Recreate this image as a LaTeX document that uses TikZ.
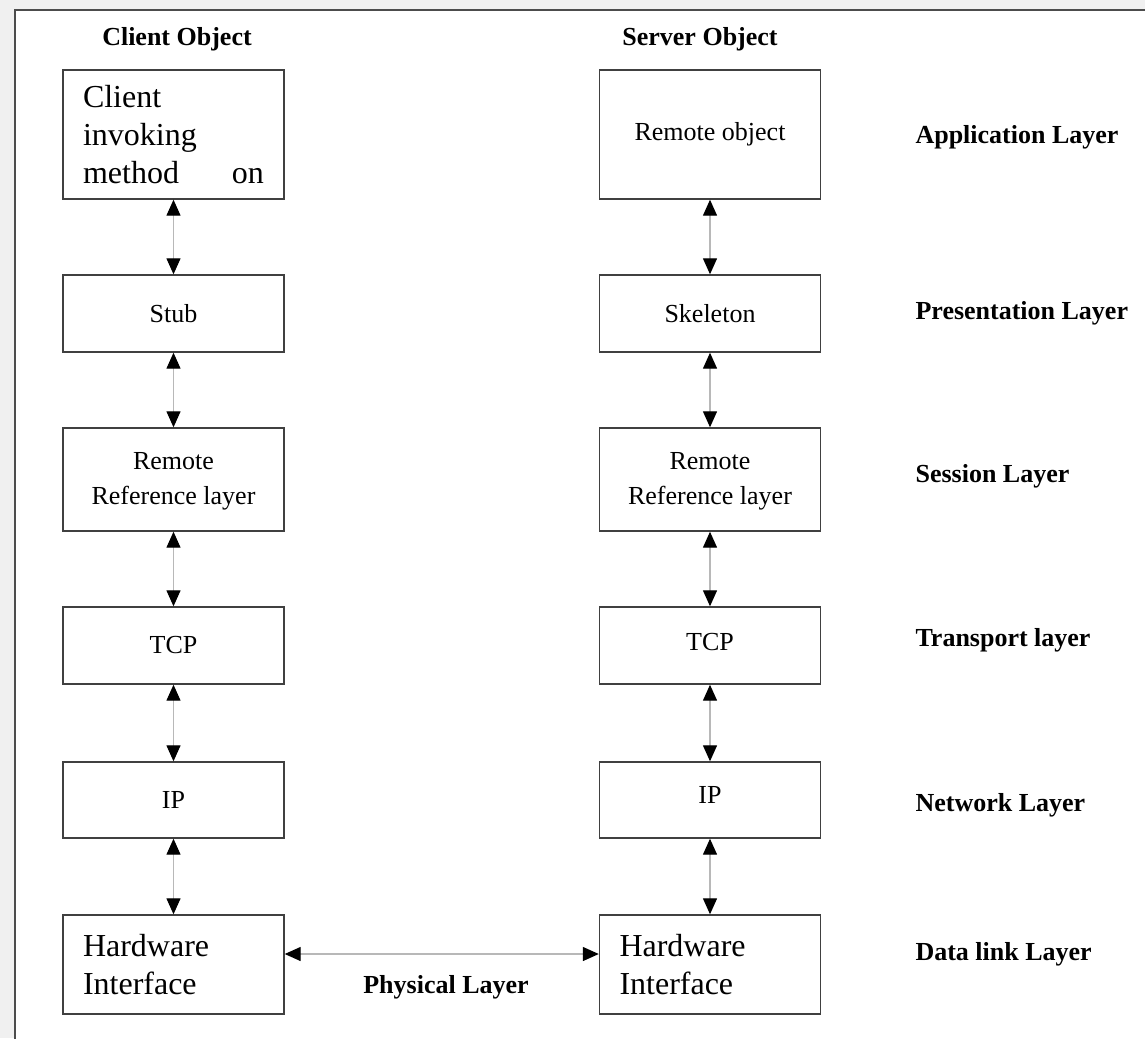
\documentclass[tikz,border=0pt]{standalone}
\usepackage{fontspec}
\setmainfont{Liberation Serif}
\usetikzlibrary{arrows.meta}

\tikzset{
  layerbox/.style={draw=black!75, line width=1.4pt, fill=white, minimum width=221pt,
    inner sep=0pt, align=center, font=\fontsize{26}{35}\selectfont},
  bigtext/.style={text width=181pt, align=left, font=\fontsize{32}{38}\selectfont},
  layername/.style={anchor=west, font=\bfseries\fontsize{26}{31}\selectfont},
  headtext/.style={font=\bfseries\fontsize{26}{31}\selectfont},
  link/.style={draw=black!28, line width=1.3pt,
    {Triangle[length=16pt,width=14pt,black]}-{Triangle[length=16pt,width=14pt,black]}}
}

\begin{document}
\begin{tikzpicture}[x=1pt, y=-1pt]

  \newcommand\XC{173.5}
  \newcommand\XS{710}
  \newcommand\XLAB{912}
  \newcommand\TwoRows[2]{\raisebox{7pt}{\begin{tabular}{@{}c@{}}#1\\#2\end{tabular}}}

  \useasboundingbox (0,0) rectangle (1145,1038);
  \fill[black!6] (0,0) rectangle (1145,1038);
  \draw[black!70, line width=1.5pt, fill=white] (15,1060) -- (15,10) -- (1160,10) -- (1160,1060);

  \node[headtext] (chead) at (177,39) {Client Object};
  \node[headtext] (shead) at (700,39) {Server Object};

  % client side
  \node[layerbox, bigtext, minimum height=129pt] (cinv) at (\XC,134.5) {Client\\invoking\\method\hfill on};
  \node[layerbox, minimum height=77pt] (stub) at (\XC,313.5) {Stub};
  \node[layerbox, minimum height=103pt] (crrl) at (\XC,479.5) {\TwoRows{Remote}{Reference layer}};
  \node[layerbox, minimum height=77pt] (ctcp) at (\XC,645.5) {TCP};
  \node[layerbox, minimum height=76pt] (cip) at (\XC,800) {\raisebox{-5pt}{IP}};
  \node[layerbox, bigtext, minimum height=99pt] (chw) at (\XC,964.5) {Hardware\\Interface};

  % server side
  \node[layerbox, minimum height=129pt] (robj) at (\XS,134.5) {\raisebox{3pt}{Remote object}};
  \node[layerbox, minimum height=77pt] (skel) at (\XS,313.5) {Skeleton};
  \node[layerbox, minimum height=103pt] (srrl) at (\XS,479.5) {\TwoRows{Remote}{Reference layer}};
  \node[layerbox, minimum height=77pt] (stcp) at (\XS,645.5) {\raisebox{8pt}{TCP}};
  \node[layerbox, minimum height=76pt] (sip) at (\XS,800) {\raisebox{10pt}{IP}};
  \node[layerbox, bigtext, minimum height=99pt] (shw) at (\XS,964.5) {Hardware\\Interface};

  % layer names
  \node[layername] (lapp) at (\XLAB,137) {Application Layer};
  \node[layername] (lpre) at (\XLAB,313) {Presentation Layer};
  \node[layername] (lses) at (\XLAB,476) {Session Layer};
  \node[layername] (ltra) at (\XLAB,640) {Transport layer};
  \node[layername] (lnet) at (\XLAB,805) {Network Layer};
  \node[layername] (ldat) at (\XLAB,954) {Data link Layer};
  \node[headtext] (lphy) at (446,987) {Physical Layer};

  \draw[link] (cinv) -- (stub);
  \draw[link] (stub) -- (crrl);
  \draw[link] (crrl) -- (ctcp);
  \draw[link] (ctcp) -- (cip);
  \draw[link] (cip) -- (chw);

  \draw[link] (robj) -- (skel);
  \draw[link] (skel) -- (srrl);
  \draw[link] (srrl) -- (stcp);
  \draw[link] (stcp) -- (sip);
  \draw[link] (sip) -- (shw);

  \draw[link] ([yshift=10.5pt]chw.east) -- ([yshift=10.5pt]shw.west);

\end{tikzpicture}
\end{document}
